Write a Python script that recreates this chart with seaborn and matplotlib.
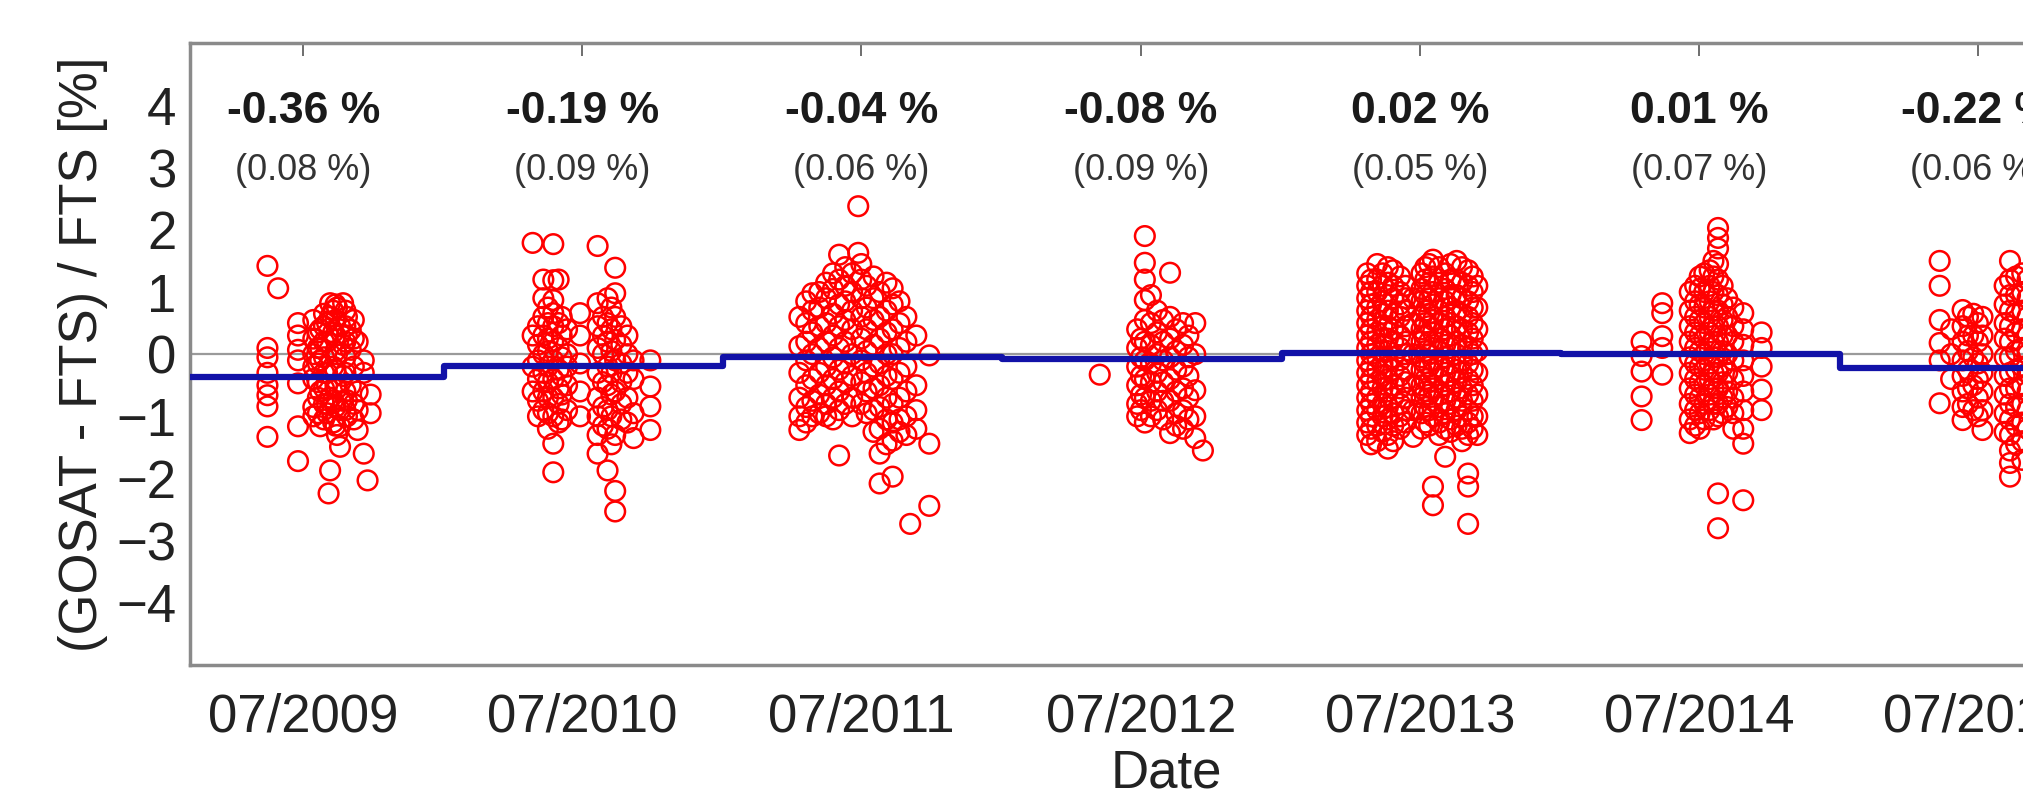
import numpy as np
import pandas as pd
import matplotlib
matplotlib.use("Agg")
import matplotlib.pyplot as plt
import matplotlib.dates as mdates
import seaborn as sns

days_2009 = ['2009-05-15', '2009-05-29', '2009-06-24', '2009-07-14', '2009-07-20', '2009-07-23',
             '2009-07-28', '2009-08-01', '2009-08-03', '2009-08-05', '2009-08-09', '2009-08-12',
             '2009-08-14', '2009-08-18', '2009-08-22', '2009-08-25', '2009-08-27', '2009-09-01',
             '2009-09-05', '2009-09-10', '2009-09-18', '2009-09-23', '2009-09-27']
vals_2009 = [[1.42, 0.10, -0.05, -0.3, -0.5, -0.66, -0.84, -1.33], [1.06],
             [0.5, 0.3, 0.07, -0.1, -0.47, -1.16, -1.72], [0.55, 0.25, 0.0, -0.2, -0.4, -0.85, -1.0],
             [0.35, 0.1, -0.15, -0.45, -0.7, -0.95], [0.4, 0.1, -0.1, -0.6, -1.16],
             [0.65, 0.45, 0.2, -0.05, -0.3, -0.55, -0.8, -1.05], [0.5, 0.2, -0.3, -0.5, -0.95, -0.8],
             [-2.24], [0.82, 0.6, -0.7, -1.87], [0.7, 0.35, -0.74, -0.2, -1.1],
             [0.8, 0.55, 0.3, 0.05, -0.25, -0.5, -0.85, -1.15], [0.0, 0.75, -0.55, -1.3],
             [-1.16, -1.49, -0.9, 0.45], [0.82, 0.15, -0.35, -0.75],
             [0.7, 0.45, 0.2, -0.05, -0.3, -0.6, -0.9], [-0.74, 0.6, -1.0, 0.3],
             [0.39, 0.07, -0.5], [0.55, 0.25, -0.2, -0.8, -1.05], [-1.22, -0.9, 0.2, -0.6],
             [-0.3, -1.6, -0.1], [-2.03], [-0.95, -0.65]]

days_2010 = ['2010-04-27', '2010-05-04', '2010-05-11', '2010-05-17', '2010-05-24', '2010-05-31',
             '2010-06-04', '2010-06-11', '2010-06-28', '2010-07-21', '2010-07-28', '2010-08-03',
             '2010-08-08', '2010-08-13', '2010-08-21', '2010-08-29', '2010-09-06', '2010-09-28']
vals_2010 = [[1.79, 0.3, -0.2, -0.6], [0.45, 0.15, -0.1, -0.4, -0.75, -1.0],
             [1.2, 0.9, 0.6, 0.3, 0.0, -0.3, -0.6, -0.9],
             [0.75, 0.5, 0.25, 0.05, -0.2, -0.45, -0.7, -0.95, -1.2],
             [1.77, 1.19, 0.87, 0.66, 0.45, 0.2, -0.1, -0.4, -0.7, -1.0, -1.44, -1.9],
             [1.2, 0.5, 0.1, -0.25, -0.55, -0.8, -1.1], [0.6, 0.3, -0.05, -0.35, -0.65, -1.05],
             [0.4, 0.0, -0.5, -0.9, -0.2], [0.66, 0.3, -0.15, -0.6, -1.0],
             [1.74, 0.82, 0.45, 0.1, -0.3, -0.7, -1.0, -1.6, -1.3],
             [0.6, 0.3, 0.0, -0.45, -0.85, -1.15], [0.9, 0.5, 0.2, -0.2, -0.5, -0.9, -1.87, -1.2],
             [0.75, 0.4, 0.05, -0.3, -0.65, -1.0, -1.45],
             [1.39, 0.98, 0.6, 0.23, -0.1, -0.6, -1.3, -2.2, -2.53],
             [0.45, 0.15, -0.15, -0.45, -0.8, -1.05], [0.3, -0.3, -0.7, -1.1, 0.0],
             [-0.95, -0.4, -0.1, -1.35], [-0.1, -0.52, -0.84, -1.22]]

days_2011 = ['2011-04-11', '2011-04-20', '2011-04-28', '2011-05-07', '2011-05-16', '2011-05-25',
             '2011-06-02', '2011-06-10', '2011-06-19', '2011-06-27', '2011-07-01', '2011-07-08',
             '2011-07-17', '2011-07-25', '2011-08-03', '2011-08-11', '2011-08-20', '2011-08-29',
             '2011-09-03', '2011-09-11', '2011-09-28']
vals_2011 = [[0.13, 0.6, -0.3, -0.7, -1.0, -1.22], [0.85, 0.5, 0.2, -0.1, -0.5, -0.85, -1.1],
             [0.98, 0.7, 0.35, 0.0, -0.4, -0.75, -1.0], [1.0, 0.75, 0.45, 0.1, -0.3, -0.65, -0.95],
             [1.15, 0.9, 0.5, 0.2, -0.2, -0.5, -0.8, -1.0],
             [1.3, 1.05, 0.65, 0.3, -0.05, -0.4, -0.7, -1.05],
             [1.6, 1.2, 0.8, 0.45, 0.1, -0.25, -0.6, -0.9, -1.63],
             [1.4, 1.1, 0.85, 0.55, 0.2, -0.15, -0.45, -0.8],
             [1.3, 1.0, 0.7, 0.4, 0.0, -0.35, -0.7, -1.0], [2.38, 1.63],
             [1.45, 1.2, 0.9, 0.6, 0.25, -0.1, -0.45, -0.8],
             [1.1, 0.75, 0.4, 0.05, -0.3, -0.6, -0.95],
             [1.25, 0.9, 0.55, 0.15, -0.2, -0.55, -0.9, -1.25],
             [1.0, 0.6, 0.25, -0.15, -0.5, -0.85, -1.2, -1.6, -2.08],
             [1.15, 0.7, 0.35, 0.0, -0.35, -0.7, -1.05, -1.45],
             [1.06, 0.8, 0.4, 0.0, -0.4, -0.8, -1.1, -1.39, -1.97],
             [0.85, 0.5, 0.1, -0.3, -0.7, -1.05, -1.25], [0.6, 0.2, -0.2, -0.6, -1.0, -1.3],
             [-2.73], [0.3, -0.5, -0.9, -1.2], [-0.02, -1.44, -2.44]]

days_2012 = ['2012-05-08', '2012-06-26', '2012-07-01', '2012-07-06', '2012-07-14', '2012-07-22',
             '2012-07-30', '2012-08-08', '2012-08-16', '2012-08-25', '2012-09-01', '2012-09-10',
             '2012-09-20']
vals_2012 = [[-0.33], [0.4, 0.1, -0.2, -0.5, -0.8, -1.0], [0.25, -0.05, -0.35, -0.65, -0.9],
             [1.9, 1.47, 1.2, 0.87, 0.55, 0.2, -0.1, -0.4, -0.7, -1.1],
             [0.95, 0.5, 0.15, -0.15, -0.45, -0.75, -1.0],
             [0.7, 0.35, 0.0, -0.3, -0.6, -0.9], [0.55, 0.2, -0.1, -0.45, -0.75, -1.05],
             [1.31, 0.6, 0.25, -0.05, -0.4, -0.75, -1.27], [0.4, 0.05, -0.25, -0.6, -0.95, -1.15],
             [0.5, 0.15, -0.2, -0.55, -0.9, -1.2], [0.3, -0.05, -0.35, -0.7, -1.05],
             [0.5, 0.0, -0.58, -1.0, -1.35], [-1.55]]

days_2013 = ['2013-04-23', '2013-04-28', '2013-05-06', '2013-05-13', '2013-05-20', '2013-05-27',
             '2013-06-05', '2013-06-12', '2013-06-22', '2013-07-03', '2013-07-08', '2013-07-13',
             '2013-07-18', '2013-07-26', '2013-08-03', '2013-08-10', '2013-08-18', '2013-08-25',
             '2013-09-02', '2013-09-08', '2013-09-14']
vals_2013 = [[1.3, 1.1, 0.9, 0.7, 0.5, 0.3, 0.1, -0.1, -0.3, -0.5, -0.7, -0.9, -1.1, -1.3],
             [1.2, 1.0, 0.8, 0.6, 0.4, 0.2, 0.0, -0.2, -0.4, -0.6, -0.8, -1.0, -1.2, -1.45],
             [1.45, 1.2, 1.0, 0.75, 0.55, 0.35, 0.15, -0.05, -0.25, -0.45, -0.7, -0.9, -1.15, -1.4],
             [1.3, 1.1, 0.85, 0.65, 0.45, 0.25, 0.05, -0.15, -0.35, -0.55, -0.8, -1.0, -1.25],
             [1.4, 1.15, 0.95, 0.7, 0.45, 0.25, 0.05, -0.2, -0.4, -0.6, -0.85, -1.05, -1.3, -1.52],
             [1.35, 1.1, 0.9, 0.65, 0.4, 0.2, -0.05, -0.25, -0.5, -0.7, -0.95, -1.15, -1.4],
             [1.25, 1.0, 0.8, 0.6, 0.3, 0.1, -0.1, -0.35, -0.55, -0.8, -1.0, -1.2],
             [1.1, 0.9, 0.7, 0.45, 0.2, 0.0, -0.25, -0.45, -0.7, -0.9, -1.1],
             [0.9, 0.5, 0.0, -0.5, -0.9, -1.33],
             [1.3, 1.05, 0.85, 0.6, 0.4, 0.2, -0.05, -0.25, -0.5, -0.7, -0.95, -1.2],
             [1.4, 1.2, 0.95, 0.7, 0.5, 0.3, 0.05, -0.15, -0.4, -0.6, -0.85, -1.1],
             [1.45, 1.15, 0.9, 0.65, 0.45, 0.2, 0.0, -0.2, -0.45, -0.65, -0.9, -1.15],
             [1.52, 1.25, 1.0, 0.8, 0.55, 0.35, 0.1, -0.1, -0.3, -0.55, -0.75, -1.0, -2.13, -2.43],
             [1.4, 1.15, 0.9, 0.7, 0.5, 0.25, 0.05, -0.2, -0.4, -0.65, -0.85, -1.1, -1.3],
             [1.3, 1.05, 0.85, 0.6, 0.4, 0.15, -0.05, -0.3, -0.5, -0.75, -0.95, -1.2, -1.65],
             [1.45, 1.2, 0.95, 0.75, 0.5, 0.3, 0.1, -0.15, -0.35, -0.6, -0.8, -1.05, -1.25],
             [1.5, 1.2, 0.95, 0.7, 0.45, 0.2, 0.0, -0.25, -0.45, -0.7, -0.9, -1.15],
             [1.4, 1.15, 0.9, 0.65, 0.4, 0.15, -0.1, -0.3, -0.55, -0.75, -1.0, -1.2, -1.4],
             [1.35, 1.1, 0.85, 0.6, 0.35, 0.1, -0.15, -0.4, -0.65, -0.9, -1.1, -1.3, -1.92, -2.13, -2.73],
             [1.25, 1.0, 0.75, 0.5, 0.25, 0.0, -0.25, -0.5, -0.75, -1.0, -1.2],
             [1.1, 0.75, 0.4, 0.05, -0.3, -0.65, -1.0, -1.3]]

days_2014 = ['2014-04-17', '2014-05-14', '2014-06-19', '2014-06-26', '2014-07-02', '2014-07-08',
             '2014-07-15', '2014-07-20', '2014-07-26', '2014-08-01', '2014-08-07', '2014-08-15',
             '2014-08-28', '2014-09-21']
vals_2014 = [[0.2, -0.03, -0.28, -0.68, -1.06], [0.82, 0.66, 0.29, 0.1, -0.33],
             [1.0, 0.7, 0.45, 0.2, -0.05, -0.3, -0.55, -0.8, -1.05, -1.27],
             [1.1, 0.85, 0.6, 0.35, 0.1, -0.15, -0.4, -0.65, -0.9, -1.15],
             [1.25, 1.05, 0.8, 0.55, 0.3, 0.05, -0.2, -0.45, -0.7, -0.95, -1.2],
             [1.3, 1.0, 0.75, 0.5, 0.25, 0.0, -0.25, -0.5, -0.8, -1.05],
             [1.35, 1.1, 0.85, 0.6, 0.35, 0.1, -0.15, -0.4, -0.65, -0.9],
             [1.5, 1.25, 1.0, 0.7, 0.45, 0.2, -0.05, -0.3, -0.55, -0.8, -1.05],
             [2.03, 1.87, 1.7, 1.45, 1.2, 0.95, 0.7, 0.45, 0.2, -0.05, -0.3, -0.55, -0.8, -1.0, -2.24, -2.8],
             [1.1, 0.8, 0.55, 0.3, 0.05, -0.2, -0.45, -0.7, -0.95],
             [0.9, 0.6, 0.3, 0.0, -0.3, -0.6, -0.85],
             [0.75, 0.45, 0.2, -0.1, -0.4, -0.7, -0.95, -1.2],
             [0.66, 0.4, 0.15, -0.1, -0.35, -0.6, -0.9, -1.2, -1.44, -2.35],
             [0.35, 0.1, -0.2, -0.57, -0.9]]

days_2015 = ['2015-05-12', '2015-05-27', '2015-06-11', '2015-06-18', '2015-06-25', '2015-07-01',
             '2015-07-07', '2015-08-05', '2015-08-12', '2015-08-20', '2015-08-28', '2015-09-04']
vals_2015 = [[1.5, 1.1, 0.55, 0.18, -0.1, -0.79], [0.4, 0.0, -0.4],
             [0.71, 0.45, 0.2, -0.1, -0.35, -0.6, -0.85, -1.06],
             [0.6, 0.3, 0.05, -0.25, -0.55, -0.8], [0.65, 0.3, -0.05, -0.5, -0.9],
             [0.5, 0.2, -0.15, -0.4, -0.7, -1.0],
             [0.6, 0.3, 0.0, -0.3, -0.6, -0.9, -1.22],
             [1.1, 0.8, 0.5, 0.25, -0.05, -0.35, -0.65, -0.95, -1.25],
             [1.5, 1.2, 0.95, 0.7, 0.45, 0.2, -0.05, -0.3, -0.55, -0.8, -1.05, -1.3, -1.55, -1.75, -1.97],
             [1.25, 0.95, 0.65, 0.35, 0.05, -0.25, -0.55, -0.85, -1.15, -1.45],
             [1.3, 1.0, 0.7, 0.4, 0.1, -0.2, -0.5, -0.8, -1.1, -1.4, -1.7],
             [1.2, 0.9, 0.6, 0.3, 0.0, -0.3, -0.6, -0.9, -1.2]]

# yearly mean bias (step line)
step_dates = ['2009-02-01', '2010-01-01', '2011-01-01', '2012-01-01', '2013-01-01',
              '2014-01-01', '2015-01-01', '2016-06-01']
step_vals = [-0.36, -0.19, -0.04, -0.08, 0.02, 0.01, -0.22, -0.22]

# labels above each campaign
label_dates = ['2009-07-01', '2010-07-01', '2011-07-01', '2012-07-01', '2013-07-01',
               '2014-07-01', '2015-07-01']
bias_labels = ['-0.36 %', '-0.19 %', '-0.04 %', '-0.08 %', '0.02 %', '0.01 %', '-0.22 %']
std_labels = ['(0.08 %)', '(0.09 %)', '(0.06 %)', '(0.09 %)', '(0.05 %)', '(0.07 %)', '(0.06 %)']

rows = []
for days, vals in [(days_2009, vals_2009), (days_2010, vals_2010), (days_2011, vals_2011),
                   (days_2012, vals_2012), (days_2013, vals_2013), (days_2014, vals_2014),
                   (days_2015, vals_2015)]:
    for d, vs in zip(days, vals):
        for v in vs:
            rows.append((pd.Timestamp(d), v))
df = pd.DataFrame(rows, columns=['date', 'diff'])
df_step = pd.DataFrame({'date': pd.to_datetime(step_dates), 'bias': step_vals})

sns.set_style("white")
plt.rcParams['font.family'] = ['Liberation Sans', 'DejaVu Sans']

fig = plt.figure(figsize=(20.24, 7.95), dpi=100)
ax = fig.add_axes([0.094, 0.1635, 0.9644, 0.782])

ax.axhline(0, color='#9a9a9a', lw=1.6, zorder=1)
sns.scatterplot(data=df, x='date', y='diff', marker='o', s=200, facecolor='none',
                edgecolor='red', linewidth=1.8, ax=ax, zorder=2)
sns.lineplot(data=df_step, x='date', y='bias', drawstyle='steps-post', color='#1212a8',
             lw=4.5, ax=ax, zorder=3)

for d, b, s in zip(label_dates, bias_labels, std_labels):
    ax.text(pd.Timestamp(d), 3.9, b, ha='center', va='center', fontsize=32,
            fontweight='bold', color='#1a1a1a')
    ax.text(pd.Timestamp(d), 2.95, s, ha='center', va='center', fontsize=26, color='#333333')

ax.set_xlim(pd.Timestamp('2009-02-03'), pd.Timestamp('2016-02-01'))
ax.set_ylim(-5, 5)
ax.set_yticks([4, 3, 2, 1, 0, -1, -2, -3, -4])
ax.set_xticks(pd.to_datetime(label_dates))
ax.xaxis.set_major_formatter(mdates.DateFormatter('%m/%Y'))

ax.tick_params(axis='both', direction='in', length=9, width=1.2, color='#555555',
               labelsize=38, labelcolor='#222222')
ax.tick_params(axis='x', top=True, pad=20)
ax.tick_params(axis='y', pad=10)

for side in ['top', 'bottom', 'left', 'right']:
    ax.spines[side].set_color('#8a8a8a')
    ax.spines[side].set_linewidth(2.5)

ax.set_xlabel('Date', fontsize=38, color='#222222', labelpad=4)
ax.set_ylabel('(GOSAT - FTS) / FTS [%]', fontsize=38, color='#222222', labelpad=6)

fig.savefig('out.png', dpi=100)
